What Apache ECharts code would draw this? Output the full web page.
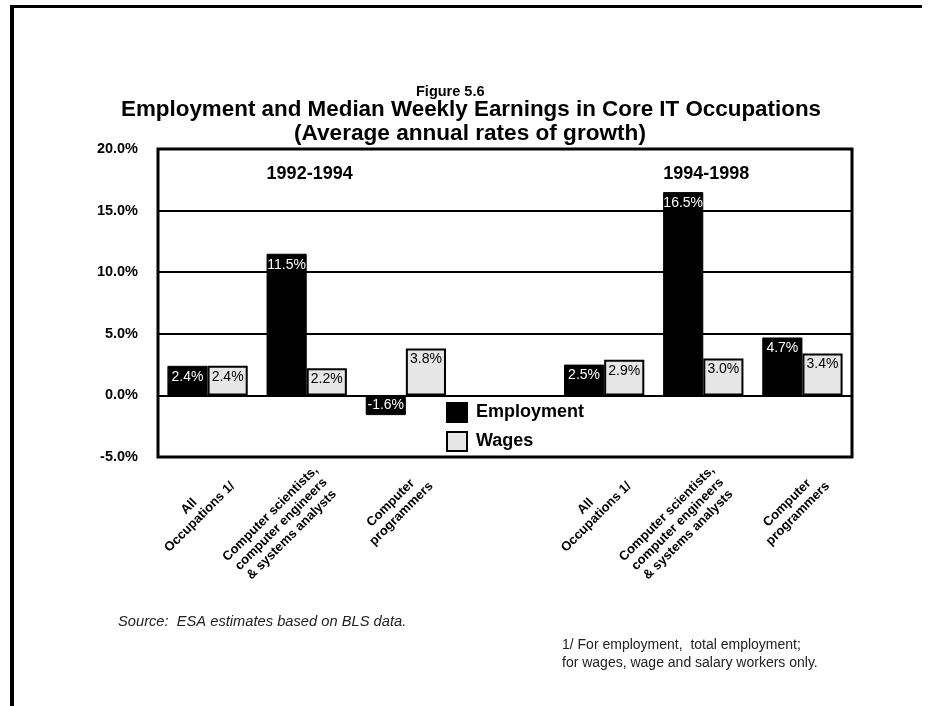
<!DOCTYPE html>
<html><head><meta charset="utf-8">
<script src="https://cdn.jsdelivr.net/npm/echarts@6/dist/echarts.min.js"></script>
<style>html,body{margin:0;padding:0;background:#fff}#c{width:930px;height:706px}</style>
</head><body><div id="c"></div>
<script>
// ---- data ----
const categories = [
  'All\nOccupations 1/',
  'Computer scientists,\ncomputer engineers\n& systems analysts',
  'Computer\nprogrammers',
  '',
  'All\nOccupations 1/',
  'Computer scientists,\ncomputer engineers\n& systems analysts',
  'Computer\nprogrammers'
];
const employment = [2.4, 11.5, -1.6, null, 2.5, 16.5, 4.7];
const wages = [2.4, 2.2, 3.8, null, 2.9, 3.0, 3.4];
const seriesNames = ['Employment', 'Wages'];
const periodLabels = ['1992-1994', '1994-1998'];
const periodCategoryIndex = [1, 5];
const periodLabelValue = 18;
const yMin = -5, yMax = 20, yInterval = 5;

const FONT = '"Liberation Sans", Arial, Helvetica, sans-serif';
const pct = v => Number(v).toFixed(1) + '%';

function barData(arr) {
  return arr.map(v => v == null ? '-' : {
    value: v,
    label: { position: v < 0 ? 'inside' : 'insideTop' }
  });
}

const chart = echarts.init(document.getElementById('c'), null, {renderer: 'canvas'});
chart.setOption({
  animation: false,
  backgroundColor: '#fff',
  title: [
    {text: 'Figure 5.6', left: 416, top: 84, padding: 0,
     textStyle: {fontFamily: FONT, fontWeight: 'bold', fontSize: 14.5, color: '#000'}},
    {text: 'Employment and Median Weekly Earnings in Core IT Occupations', left: 121, top: 99, padding: 0,
     textStyle: {fontFamily: FONT, fontWeight: 'bold', fontSize: 22.4, color: '#000'}},
    {text: '(Average annual rates of growth)', left: 294, top: 122, padding: 0,
     textStyle: {fontFamily: FONT, fontWeight: 'bold', fontSize: 22.6, color: '#000'}}
  ],
  grid: {left: 158, right: 78, top: 149, bottom: 249, show: true, borderColor: '#000', borderWidth: 3, backgroundColor: 'transparent'},
  legend: {
    orient: 'vertical', left: 446, top: 402, padding: 0, itemWidth: 20, itemHeight: 19, itemGap: 8,
    icon: 'rect',
    textStyle: {fontFamily: FONT, fontWeight: 'bold', fontSize: 18, color: '#000', padding: [0, 0, 0, 4]},
    data: seriesNames
  },
  xAxis: {
    type: 'category', data: categories,
    axisLine: {show: false}, axisTick: {show: false},
    axisLabel: {
      interval: 0, rotate: 45, margin: 2, padding: [56, 0, 0, 0],
      formatter: v => v.split('\n').map(s => '{c|' + s + '}').join('\n'),
      rich: {c: {align: 'center', fontFamily: FONT, fontWeight: 'bold', fontSize: 13, lineHeight: 15, color: '#000'}}
    }
  },
  yAxis: {
    type: 'value', min: yMin, max: yMax, interval: yInterval,
    axisLine: {show: false}, axisTick: {show: false},
    axisLabel: {formatter: v => pct(v), fontFamily: FONT, fontWeight: 'bold', fontSize: 14.5, color: '#000', margin: 20},
    splitLine: {lineStyle: {color: '#000', width: 2}}
  },
  series: [
    {
      name: seriesNames[0], type: 'bar', data: barData(employment),
      barGap: '0%', barCategoryGap: '19%',
      itemStyle: {color: '#000', borderColor: '#000', borderWidth: 1},
      label: {show: true, formatter: p => pct(p.value), color: '#fff', fontFamily: FONT, fontSize: 14, distance: 4},
      markPoint: {
        symbol: 'rect', symbolSize: 0,
        label: {show: true, position: 'inside', offset: [23, 0], fontFamily: FONT, fontWeight: 'bold', fontSize: 18, color: '#000', formatter: p => p.name},
        data: periodLabels.map((t, i) => ({name: t, coord: [periodCategoryIndex[i], periodLabelValue]}))
      }
    },
    {
      name: seriesNames[1], type: 'bar', data: barData(wages),
      itemStyle: {color: '#e6e6e6', borderColor: '#000', borderWidth: 2},
      label: {show: true, formatter: p => pct(p.value), color: '#000', fontFamily: FONT, fontSize: 14, distance: 4}
    }
  ],
  graphic: [
    {type: 'line', shape: {x1: 10, y1: 6.5, x2: 922, y2: 6.5}, style: {stroke: '#000', lineWidth: 3}},
    {type: 'line', shape: {x1: 12, y1: 5, x2: 12, y2: 706}, style: {stroke: '#000', lineWidth: 4}},
    {type: 'text', left: 118, top: 614, style: {text: 'Source:  ESA estimates based on BLS data.', font: 'italic 14.7px ' + FONT, fill: '#222'}},
    {type: 'text', left: 562, top: 636, style: {text: '1/ For employment,  total employment;\nfor wages, wage and salary workers only.', font: '14px ' + FONT, fill: '#222', lineHeight: 18}}
  ]
});
</script></body></html>
